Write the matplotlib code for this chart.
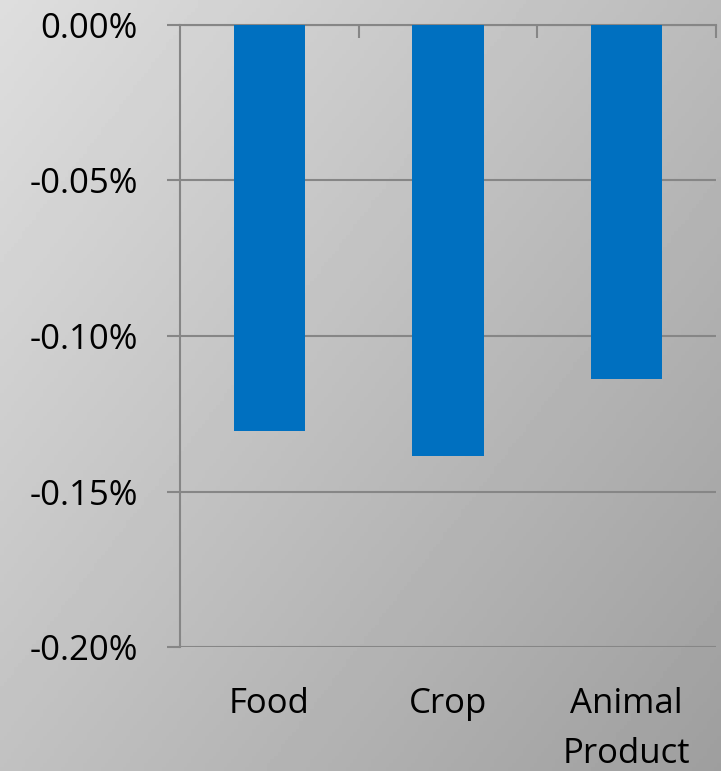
import numpy as np
import matplotlib.pyplot as plt
from matplotlib.ticker import FuncFormatter

categories = ['Food', 'Crop', 'Animal\nProduct']
values = [-0.1305, -0.1386, -0.1138]
y_ticks = [0.0, -0.05, -0.10, -0.15, -0.20]

fig = plt.figure(figsize=(7.21, 7.71), dpi=100)
plt.rcParams['font.family'] = ['Open Sans', 'DejaVu Sans']

# diagonal gray gradient background
bg = fig.add_axes([0, 0, 1, 1], zorder=0)
gx, gy = np.meshgrid(np.linspace(0, 1, 200), np.linspace(0, 1, 200))
grad = 0.87 - 0.25 * (gx * 0.55 + gy * 0.45)
bg.imshow(grad, cmap='gray', vmin=0, vmax=1, aspect='auto', extent=[0, 1, 0, 1], origin='upper')
bg.axis('off')

ax = fig.add_axes([0.2497, 0.1608, 0.7433, 0.8068], zorder=1)
ax.set_facecolor('none')

x = np.arange(len(categories))
ax.bar(x, values, width=0.4, color='#0070c0', zorder=3)

ax.set_ylim(-0.2, 0)
ax.set_xlim(-0.5, 2.5)
ax.set_yticks(y_ticks)
ax.yaxis.set_major_formatter(FuncFormatter(lambda v, p: '%.2f%%' % v))
ax.grid(axis='y', color='#868686', linewidth=1.5, zorder=1)
ax.set_axisbelow(True)

for s in ['right', 'bottom']:
    ax.spines[s].set_visible(False)
ax.spines['left'].set_color('#868686')
ax.spines['left'].set_linewidth(1.5)
ax.spines['top'].set_color('#868686')
ax.spines['top'].set_linewidth(1.5)

ax.set_xticks(x)
ax.set_xticklabels(categories, linespacing=1.6)
ax.set_xticks([0.5, 1.5, 2.5], minor=True)
ax.tick_params(axis='x', which='major', length=0, pad=29, labelsize=25)
ax.tick_params(axis='x', which='minor', bottom=False, top=True, direction='in',
               length=9, width=1.5, color='#868686')
ax.tick_params(axis='y', length=9.4, width=1.5, color='#868686', labelsize=25, pad=21)

fig.savefig('out.png', dpi=100)
